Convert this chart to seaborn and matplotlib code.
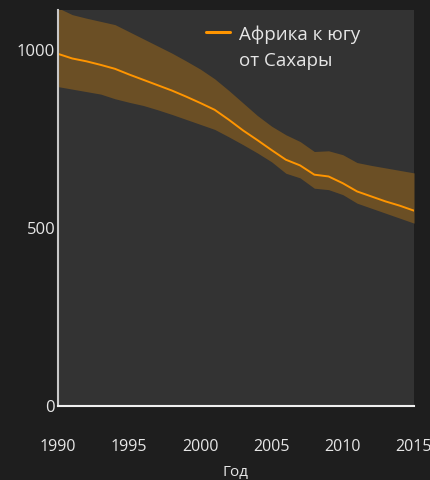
import matplotlib
matplotlib.use("Agg")
import matplotlib.pyplot as plt
import pandas as pd
import seaborn as sns

# estimated values
years = list(range(1990, 2016))
rate = [988, 975, 967, 957, 946, 930, 915, 900, 885, 868, 850, 831, 803,
        773, 746, 718, 691, 675, 649, 644, 625, 602, 588, 574, 562, 548]
lower = [896, 889, 882, 875, 862, 852, 843, 831, 818, 804, 790, 776, 755,
         733, 710, 685, 653, 640, 611, 607, 593, 569, 555, 541, 527, 513]
upper = [1117, 1098, 1088, 1079, 1070, 1050, 1030, 1010, 990, 968, 945, 918, 885,
         850, 815, 785, 761, 742, 714, 716, 705, 683, 675, 668, 661, 654]
series_label = "Африка к югу\nот Сахары"
x_ticks = [1990, 1995, 2000, 2005, 2010, 2015]
y_ticks = [0, 500, 1000]

df = pd.DataFrame({"year": years, "rate": rate, "lower": lower, "upper": upper})

sns.set_style("dark")
plt.rcParams["font.family"] = ["Open Sans", "DejaVu Sans"]

fig_bg = "#1e1e1e"
ax_bg = "#333333"
orange = "#ff9500"
txt = "#e6e6e6"

fig = plt.figure(figsize=(4.3, 4.8), dpi=100, facecolor=fig_bg)
ax = fig.add_axes([58 / 430, 74 / 480, 356 / 430, 396 / 480])
ax.set_facecolor(ax_bg)

ax.fill_between(df["year"], df["lower"], df["upper"], color="#6b4f25", lw=0)
sns.lineplot(data=df, x="year", y="rate", color=orange, lw=1.4,
             label=series_label, ax=ax)

ax.set_xlim(1990, 2015)
ax.set_ylim(0, 1111)
ax.set_xticks(x_ticks)
ax.set_yticks(y_ticks)
ax.grid(False)

for side in ["top", "right"]:
    ax.spines[side].set_visible(False)
ax.spines["left"].set_color("#c8c8c8")
ax.spines["left"].set_linewidth(1.5)
ax.spines["bottom"].set_color("#f0f0f0")
ax.spines["bottom"].set_linewidth(1.5)

ax.tick_params(axis="x", direction="out", length=8, width=2, color="white",
               pad=16, labelsize=11.5, labelcolor=txt)
ax.tick_params(axis="y", direction="in", length=8, width=1.5, color="white",
               pad=2, labelsize=12, labelcolor=txt)

ax.set_xlabel("Год", color=txt, fontsize=11, labelpad=7)
ax.set_ylabel("")

leg = ax.legend(loc="upper left", bbox_to_anchor=(0.383, 0.99), frameon=False,
                fontsize=13.5, handlelength=1.3, handletextpad=0.5,
                labelcolor=txt, borderaxespad=0.2)
for h in leg.get_lines():
    h.set_linewidth(2.2)
for t in leg.get_texts():
    t.set_linespacing(1.6)
# put the handle next to the first line of the label, as in the source
for col in leg._legend_handle_box.get_children():
    for row in col.get_children():
        row.align = "top"

fig.savefig("out.png", dpi=100, facecolor=fig_bg)
